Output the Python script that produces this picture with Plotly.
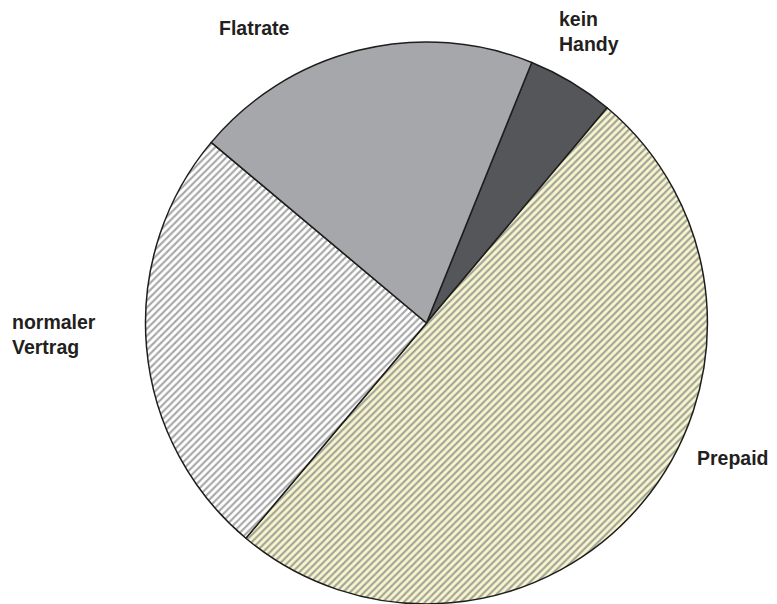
import plotly.graph_objects as go

W, H = 777, 604
OFF = 8  # page body margin in the browser

labels = ["kein Handy", "Prepaid", "normaler Vertrag", "Flatrate"]
values = [5, 50, 25, 20]
label_text = ["kein<br>Handy", "Prepaid", "normaler<br>Vertrag", "Flatrate"]

slice_colors = ["#55565a", "#f8f6cb", "#ffffff", "#a6a7ab"]
pattern_shapes = ["", "/", "/", ""]
pattern_fg = ["#55565a", "#a3a39b", "#a8a8a8", "#a6a7ab"]

# label anchor positions in reference pixels (left, top)
label_px = [(557, 6), (695, 445), (10, 309), (217, 15)]

cx, cy, r = 426.5 - OFF, 323 - OFF, 281

fig = go.Figure(go.Pie(
    labels=labels,
    values=values,
    sort=False,
    direction="clockwise",
    rotation=22,
    textinfo="none",
    hoverinfo="label+percent",
    showlegend=False,
    domain=dict(x=[(cx - r) / W, (cx + r) / W],
                y=[1 - (cy + r) / H, 1 - (cy - r) / H]),
    marker=dict(
        colors=slice_colors,
        line=dict(color="#1e1e1e", width=1.5),
        pattern=dict(shape=pattern_shapes, fgcolor=pattern_fg,
                     bgcolor=slice_colors, size=5, solidity=0.42),
    ),
))

for t, (px, py) in zip(label_text, label_px):
    fig.add_annotation(
        x=(px - OFF) / W, y=1 - (py - OFF) / H, xref="paper", yref="paper",
        xanchor="left", yanchor="top", align="left",
        text=f"<b>{t}</b>", showarrow=False,
        font=dict(family="Liberation Sans, Arial, sans-serif", size=19.5, color="#231f20"),
    )

fig.update_layout(
    width=W, height=H,
    margin=dict(l=0, r=0, t=0, b=0),
    paper_bgcolor="white", plot_bgcolor="white",
)

fig.write_html("out.html")
